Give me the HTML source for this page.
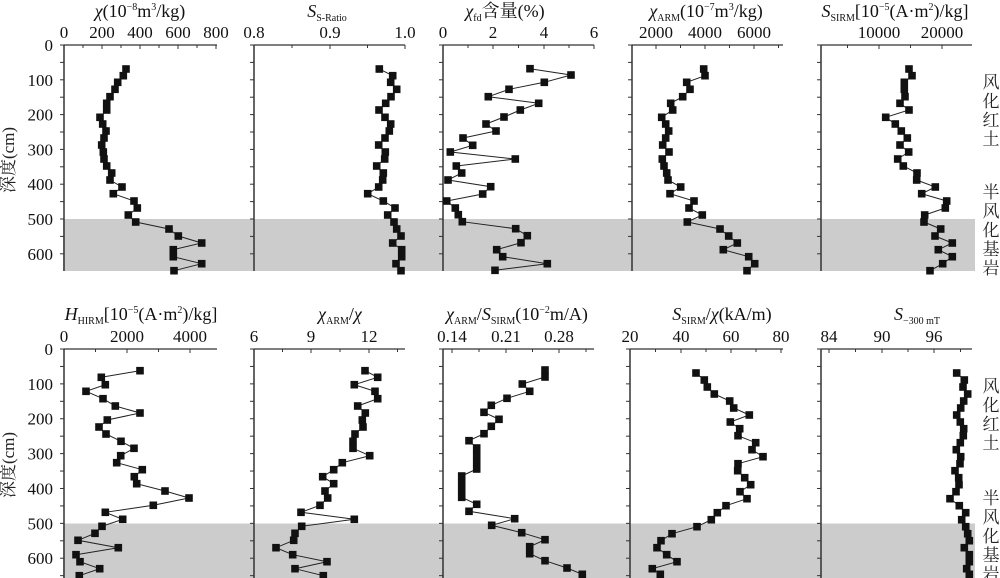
<!DOCTYPE html>
<html><head><meta charset="utf-8">
<style>
html,body{margin:0;padding:0;background:#fff;}
svg{display:block;font-family:"Liberation Serif","Noto Serif CJK SC",serif;}
.t{font-size:18px;fill:#111;}
.tk{font-size:17px;fill:#111;}
.cn{font-family:"Liberation Serif","Noto Serif CJK SC",serif;font-size:17px;fill:#222;}
</style></head>
<body>
<svg id="s" width="1000" height="578" viewBox="0 0 1000 578" xmlns="http://www.w3.org/2000/svg">
<rect x="63" y="219" width="912" height="52" fill="#cccccc"/>
<rect x="63" y="523.5" width="912" height="55" fill="#cccccc"/>
<g id="g"></g>
<text class="t" x="140" y="17" text-anchor="middle"><tspan font-style="italic">χ</tspan>(10<tspan font-size="10" dy="-7">−8</tspan><tspan dy="7">m</tspan><tspan font-size="10" dy="-7">3</tspan><tspan dy="7">/kg)</tspan></text>
<text class="t" x="327" y="17" text-anchor="middle"><tspan font-style="italic">S</tspan><tspan font-size="10" dy="4">S-Ratio</tspan></text>
<text class="t" x="505" y="17" text-anchor="middle"><tspan font-style="italic">χ</tspan><tspan font-size="10" dy="4">fd</tspan><tspan dy="-4">含量(%)</tspan></text>
<text class="t" x="706" y="17" text-anchor="middle"><tspan font-style="italic">χ</tspan><tspan font-size="10" dy="4">ARM</tspan><tspan dy="-4">(10</tspan><tspan font-size="10" dy="-7">−7</tspan><tspan dy="7">m</tspan><tspan font-size="10" dy="-7">3</tspan><tspan dy="7">/kg)</tspan></text>
<text class="t" x="895" y="17" text-anchor="middle"><tspan font-style="italic">S</tspan><tspan font-size="10" dy="4">SIRM</tspan><tspan dy="-4">[10</tspan><tspan font-size="10" dy="-7">−5</tspan><tspan dy="7">(A·m</tspan><tspan font-size="10" dy="-7">2</tspan><tspan dy="7">)/kg]</tspan></text>
<text class="t" x="141" y="320" text-anchor="middle"><tspan font-style="italic">H</tspan><tspan font-size="10" dy="4">HIRM</tspan><tspan dy="-4">[10</tspan><tspan font-size="10" dy="-7">−5</tspan><tspan dy="7">(A·m</tspan><tspan font-size="10" dy="-7">2</tspan><tspan dy="7">)/kg]</tspan></text>
<text class="t" x="340" y="320" text-anchor="middle"><tspan font-style="italic">χ</tspan><tspan font-size="10" dy="4">ARM</tspan><tspan dy="-4">/</tspan><tspan font-style="italic">χ</tspan></text>
<text class="t" x="517" y="320" text-anchor="middle"><tspan font-style="italic">χ</tspan><tspan font-size="10" dy="4">ARM</tspan><tspan dy="-4">/</tspan><tspan font-style="italic">S</tspan><tspan font-size="10" dy="4">SIRM</tspan><tspan dy="-4">(10</tspan><tspan font-size="10" dy="-7">−2</tspan><tspan dy="7">m/A)</tspan></text>
<text class="t" x="722" y="320" text-anchor="middle"><tspan font-style="italic">S</tspan><tspan font-size="10" dy="4">SIRM</tspan><tspan dy="-4">/</tspan><tspan font-style="italic">χ</tspan>(kA/m)</text>
<text class="t" x="917" y="320" text-anchor="middle"><tspan font-style="italic">S</tspan><tspan font-size="10" dy="4">−300 mT</tspan></text>
<text class="cn" transform="translate(14,160) rotate(-90)" text-anchor="middle" font-size="18">深度(cm)</text>
<text class="cn" transform="translate(14,465) rotate(-90)" text-anchor="middle" font-size="18">深度(cm)</text>
<g class="cn" text-anchor="middle" font-size="18">
<text x="991" y="88">风</text><text x="991" y="107">化</text><text x="991" y="126">红</text><text x="991" y="145">土</text>
<text x="991" y="198">半</text><text x="991" y="217">风</text><text x="991" y="236">化</text><text x="991" y="255">基</text><text x="991" y="274">岩</text>
<text x="991" y="392">风</text><text x="991" y="411">化</text><text x="991" y="430">红</text><text x="991" y="449">土</text>
<text x="991" y="504">半</text><text x="991" y="523">风</text><text x="991" y="542">化</text><text x="991" y="561">基</text><text x="991" y="580">岩</text>
</g>
</svg>
<script>
var NS="http://www.w3.org/2000/svg",g=document.getElementById('g');
function el(n,a,t){var e=document.createElementNS(NS,n);for(var k in a)e.setAttribute(k,a[k]);if(t!==undefined)e.textContent=t;g.appendChild(e);return e;}
var yTop=[207,227,247,268,290,310,330,352,372,393,414,435,456,477,498,519,540,561,581,603,624,645,666,687,708,729,749,770,791,812];
var yB1=[242,262,284,304,326,348,369,390,411,432,454,475,497,518,539,560,581,603,624,646,667,688,709,730,751,773,794,815,836,857];
var yB3=[90,111,132,154,175,196,217,238,259,281,302,324,345,366,387,408,429,451,472,493,514,536,556,578,599,620,641,662,684,703];
var yB4=[249,270,291,312,333,354,375,396,416,437,458,479,500,521,542,563,584,605,626,647,668,689,710,731,752,773,794,815,836,853];
var yT3=[86,105,127,148,170,190,210,231,252,273,294,316,336,357,378,399,420,440,462,483,504,524,545,566,587,608,629,650,671,691];
var series=[
 [0,0,yTop,[378,370,353,345,330,320,320,300,308,318,312,305,310,312,320,335,330,366,340,402,412,385,407,507,535,605,520,520,605,522]],
 [0,0,yTop,[1138,1178,1172,1190,1173,1157,1137,1155,1172,1168,1155,1136,1156,1154,1130,1150,1148,1136,1103,1150,1185,1163,1182,1190,1203,1178,1205,1205,1188,1203]],
 [430,40,yT3,[300,423,343,237,175,326,271,222,168,198,99,128,61,256,79,95,54,182,158,50,76,85,97,257,292,273,200,218,352,195]],
 [500,0,yTop,[611,615,560,570,548,512,518,485,497,506,497,488,507,487,492,500,504,542,510,582,567,607,562,660,686,712,670,746,764,741]],
 [500,0,yTop,[1227,1236,1213,1213,1215,1200,1227,1157,1186,1204,1222,1200,1226,1193,1210,1251,1250,1306,1265,1340,1336,1274,1272,1322,1305,1357,1315,1357,1328,1290]],
 [0,290,yB1,[420,304,316,258,309,346,420,322,297,318,363,402,362,350,427,403,410,495,567,460,316,368,306,285,234,355,228,240,299,238]],
 [0,290,yB1,[1095,1133,1063,1125,1133,1073,1096,1087,1089,1065,1059,1059,1109,1027,1001,968,1001,975,983,960,903,1063,905,885,881,828,878,981,885,970]],
 [430,340,yB3,[345,345,277,299,231,184,162,207,184,162,117,140,140,140,140,95,95,95,95,140,117,254,185,275,345,299,299,345,411,457]],
 [500,290,yB4,[588,613,622,643,689,701,748,691,719,714,767,756,789,714,713,734,752,720,741,678,652,634,591,516,483,471,500,531,457,481]],
 [500,290,yB4,[1370,1393,1389,1403,1391,1382,1370,1381,1391,1390,1381,1369,1382,1380,1365,1376,1377,1368,1350,1378,1397,1385,1397,1403,1408,1393,1408,1408,1400,1408]]
];
var panels=[
 [64,217,45,271,0.348,[[0,64],[200,102],[400,140],[600,178],[800,216]],true],
 [254,405,45,271,0.348,[['0.8',254],['0.9',330],['1.0',405]]],
 [443,594,45,271,0.348,[[0,443],[2,493],[4,544],[6,594]]],
 [632,783,45,271,0.348,[[2000,656],[4000,705],[6000,754]]],
 [821,972,45,271,0.348,[[10000,879],[20000,942]]],
 [64,217,349,578,0.3487,[[0,64],[2000,127],[4000,190]],true],
 [254,405,349,578,0.3487,[[6,254],[9,311],[12,369]]],
 [443,594,349,578,0.3487,[['0.14',452],['0.21',506],['0.28',559]]],
 [630,783,349,578,0.3487,[[20,630],[40,681],[60,731],[80,781]]],
 [821,972,349,578,0.3487,[[84,829],[90,882],[96,934]]]
];
panels.forEach(function(p){
 var x0=p[0],x1=p[1],y0=p[2],y1=p[3],s=p[4];
 el('line',{x1:x0,y1:y0,x2:x1,y2:y0,stroke:'#333','stroke-width':1.2});
 el('line',{x1:x0,y1:y0,x2:x0,y2:y1,stroke:'#333','stroke-width':1.5});
 for(var d=0;d<=650;d+=50){var y=y0+d*s;if(y>y1)break;el('line',{x1:x0-4,y1:y,x2:x0,y2:y,stroke:'#333','stroke-width':1});
  if(p[6]&&d%100==0)el('text',{x:x0-11,y:y+6,'text-anchor':'end','class':'tk'},String(d));}
 var L=p[5];
 for(var i=0;i<L.length;i++){var x=L[i][1];el('line',{x1:x,y1:y0,x2:x,y2:y0+4,stroke:'#333'});
  el('text',{x:x,y:y0-7,'text-anchor':'middle','class':'tk'},String(L[i][0]));
  if(i<L.length-1){var m=(x+L[i+1][1])/2;el('line',{x1:m,y1:y0,x2:m,y2:y0+3,stroke:'#333'});}}
 var st=L.length>1?L[1][1]-L[0][1]:30;
 var xm=L[L.length-1][1]+st/2; if(xm<x1)el('line',{x1:xm,y1:y0,x2:xm,y2:y0+3,stroke:'#333'});
 xm=L[0][1]-st/2; if(xm>x0)el('line',{x1:xm,y1:y0,x2:xm,y2:y0+3,stroke:'#333'});
});
series.forEach(function(s){
 var pts=[];for(var i=0;i<s[3].length;i++){pts.push([s[0]+s[3][i]/3,s[1]+s[2][i]/3]);}
 el('polyline',{points:pts.map(function(p){return p[0].toFixed(1)+','+p[1].toFixed(1)}).join(' '),fill:'none',stroke:'#222','stroke-width':1});
 pts.forEach(function(p){el('rect',{x:(p[0]-3.8).toFixed(1),y:(p[1]-3.8).toFixed(1),width:7.6,height:7.6,fill:'#111'});});
});
</script>
</body></html>
